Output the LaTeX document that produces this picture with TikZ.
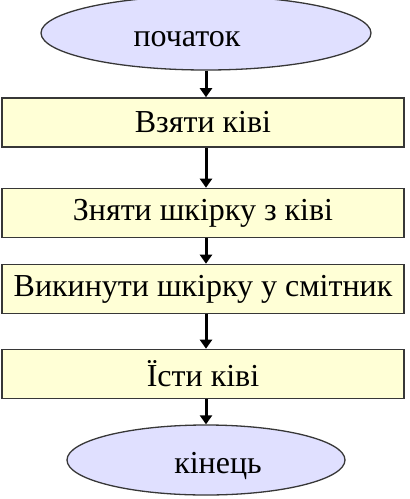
\documentclass[tikz,border=0pt]{standalone}
\usepackage{fontspec}
\setmainfont{Liberation Serif}
\usetikzlibrary{arrows.meta,shapes.geometric}
\definecolor{ink}{RGB}{0,0,0}
\definecolor{framegray}{RGB}{55,55,55}
\definecolor{nodelilac}{RGB}{224,224,255}
\definecolor{nodecream}{RGB}{255,255,214}
\tikzset{
  term/.style={ellipse, draw=framegray, fill=nodelilac, inner sep=0pt,
    minimum width=330pt, minimum height=74pt, line width=1.3pt},
  act/.style={rectangle, draw=framegray, fill=nodecream, align=center,
    inner sep=0pt, minimum width=402pt, minimum height=49pt,
    font=\fontsize{32}{34}\selectfont, text=ink, line width=1.6pt},
  ttext/.style={font=\fontsize{32}{34}\selectfont, text=ink},
  flow/.style={-{Triangle[length=9pt,width=12pt]}, line width=3pt, draw=ink},
}
\begin{document}
\begin{tikzpicture}[x=1pt,y=-1pt]
  \useasboundingbox (0,0) rectangle (410,499);
  % terminals
  \node[term, label={[ttext, shift={(-19pt,-6pt)}]center:початок}] (start) at (206,33) {};
  \node[term, minimum width=278pt, minimum height=70pt,
    label={[ttext, shift={(12pt,-6pt)}]center:кінець}] (finish) at (206,460) {};
  % steps
  \node[act] (take)  at (203,122.5) {Взяти ківі};
  \node[act] (peel)  at (203,213)   {Зняти шкірку з ківі};
  \node[act] (throw) at (203,289)   {Викинути шкірку у смітник};
  \node[act] (eat)   at (203,374)   {Їсти ківі};
  % arrows
  \draw[flow] (start.south) -- (take.north -| start.south);
  \draw[flow] (take.south -| start.south) -- (peel.north -| start.south);
  \draw[flow] (peel.south -| start.south) -- (throw.north -| start.south);
  \draw[flow] (throw.south -| start.south) -- (eat.north -| start.south);
  \draw[flow] (eat.south -| start.south) -- (finish.north);
\end{tikzpicture}
\end{document}
